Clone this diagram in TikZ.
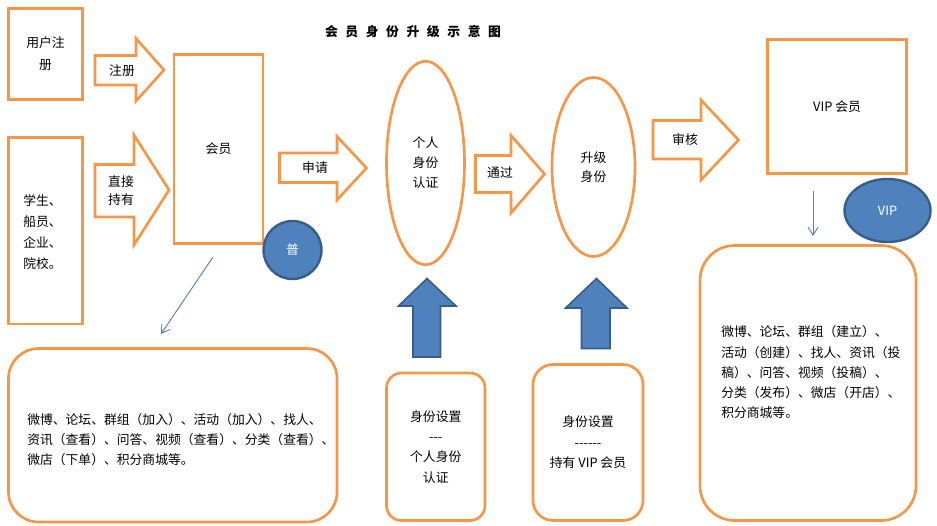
\documentclass[tikz,border=0pt]{standalone}
\usepackage{fontspec}
\setmainfont{Noto Sans CJK SC}
\usepackage{tikz}
\usetikzlibrary{shapes.geometric,arrows.meta}
\definecolor{ora}{HTML}{F79646}
\definecolor{bfill}{HTML}{4F81BD}
\definecolor{bline}{HTML}{385D8A}
\tikzset{
  lbl/.style  ={align=center, inner sep=0pt, font=\fontsize{9.6}{15.5}\selectfont},
  obox/.style ={rectangle, draw=ora, line width=2pt, lbl},
  rbox/.style ={obox, rounded corners=#1},
  oell/.style ={ellipse, draw=ora, line width=2pt, lbl},
  blk/.style  ={draw=ora, line width=2pt, line join=miter, fill=white},
  upblk/.style={draw=bline, fill=bfill, line width=1.2pt},
  badge/.style={ellipse, draw=bline, fill=bfill, line width=1.8pt, text=white, lbl},
  link/.style ={-{Straight Barb[length=6pt,width=7.5pt]}, draw=bfill, line width=0.7pt},
}

\begin{document}
\begin{tikzpicture}[x=0.75pt,y=-0.75pt]
\clip (0,0) rectangle (937,525);
% --- title ---
\node[lbl, font=\bfseries\fontsize{9.6}{12}\selectfont] (title) at (413,32) {\spaceskip=5.7pt\relax 会 员 身 份 升 级 示 意 图};
% --- entry boxes ---
\node[obox, minimum width=55.5pt, minimum height=68.25pt, font=\fontsize{9.6}{16.5}\selectfont] (reg) at (45.5,54) {用户注\\册};
\node[obox, minimum width=55.5pt, minimum height=139.9pt] (stu) at (45.5,230.75) {};
\node[lbl, align=left, anchor=west, font=\fontsize{9.6}{15.75}\selectfont] (stutxt) at (23,232) {学生、\\船员、\\企业、\\院校。};
% --- member and identity steps ---
\node[obox, minimum width=66.75pt, minimum height=141.75pt] (mem) at (218.5,149) {会员};
\node[oell, minimum width=58.5pt, minimum height=152.6pt, font=\fontsize{9.6}{15}\selectfont] (auth) at (425.5,163) {个人\\身份\\认证};
\node[oell, minimum width=62.25pt, minimum height=134.25pt, font=\fontsize{9.6}{14.5}\selectfont] (upg) at (593.5,167) {升级\\身份};
\node[obox, minimum width=104.25pt, minimum height=100.5pt] (vip) at (837,106.5) {VIP 会员};
% --- block arrows ---
\draw[blk] (95,55.5) -- (136,55.5) -- (136,38.5) -- (164,70) -- (136,101) -- (136,85) -- (95,85) -- cycle;
\node[lbl] (aReg) at (122,71) {注册};
\draw[blk] (95,164.5) -- (134,164.5) -- (134,135) -- (169,190) -- (134,245) -- (134,217) -- (95,217) -- cycle;
\node[lbl, font=\fontsize{9.6}{13.5}\selectfont] (aHold) at (121,191) {直接\\持有};
\draw[blk] (279.5,153) -- (337,153) -- (337,136.5) -- (366.5,168) -- (337,200) -- (337,182.5) -- (279.5,182.5) -- cycle;
\node[lbl] (aApply) at (315,168) {申请};
\draw[blk] (475.5,155.5) -- (511,155.5) -- (511,135.5) -- (544.5,174) -- (511,213) -- (511,192.5) -- (475.5,192.5) -- cycle;
\node[lbl] (aPass) at (500,173) {通过};
\draw[blk] (653,120.5) -- (701,120.5) -- (701,100) -- (738.5,140) -- (701,180) -- (701,159) -- (653,159) -- cycle;
\node[lbl] (aCheck) at (685,140) {审核};
% --- rights boxes ---
\node[rbox=22.5pt, minimum width=246.4pt, minimum height=130.1pt] (basic) at (172.75,435.25) {};
\node[lbl, align=left, anchor=west, font=\fontsize{9.6}{15}\selectfont] (basictxt) at (27,440) {微博、论坛、群组（加入）、活动（加入）、找人、\\资讯（查看）、问答、视频（查看）、分类（查看）、\\微店（下单）、积分商城等。};
\node[rbox=11.25pt, minimum width=73.9pt, minimum height=110.6pt, font=\fontsize{9.6}{15.2}\selectfont] (set1) at (435.75,446.75) {身份设置\\-{}-{}-\\个人身份\\认证};
\node[rbox=15pt, minimum width=82.5pt, minimum height=117pt, font=\fontsize{9.6}{15.4}\selectfont] (set2) at (588,442.5) {身份设置\\-{}-{}-{}-{}-{}-\\持有 VIP 会员};
\node[rbox=26pt, minimum width=162pt, minimum height=206.25pt] (full) at (808,383) {};
\node[lbl, align=left, anchor=west, font=\fontsize{9.6}{15.2}\selectfont] (fulltxt) at (721,372.5) {微博、论坛、群组（建立）、\\活动（创建）、找人、资讯（投\\稿）、问答、视频（投稿）、\\分类（发布）、微店（开店）、\\积分商城等。};
% --- up arrows (settings) ---
\draw[upblk] (413,357) -- (413,306) -- (398.5,306) -- (427,278.5) -- (456,306) -- (440.5,306) -- (440.5,357) -- cycle;
\draw[upblk] (581.5,348.5) -- (581.5,308) -- (565.5,308) -- (596.5,278.5) -- (627,308) -- (610,308) -- (610,348.5) -- cycle;
% --- badges ---
\node[badge, minimum width=43.5pt, minimum height=43.5pt] (pu) at (292.5,250) {普};
\node[badge, minimum width=64.5pt, minimum height=47.25pt] (vipb) at (887.5,210.5) {VIP};
% thin pointers
\coordinate (memEnd) at (213,257);
\coordinate (basicTop) at (161,334);
\draw[link] (memEnd) -- (basicTop);
\coordinate (vipEnd) at (813,191);
\coordinate (fullTop) at (813,236);
\draw[link] (vipEnd) -- (fullTop);
\end{tikzpicture}
\end{document}
